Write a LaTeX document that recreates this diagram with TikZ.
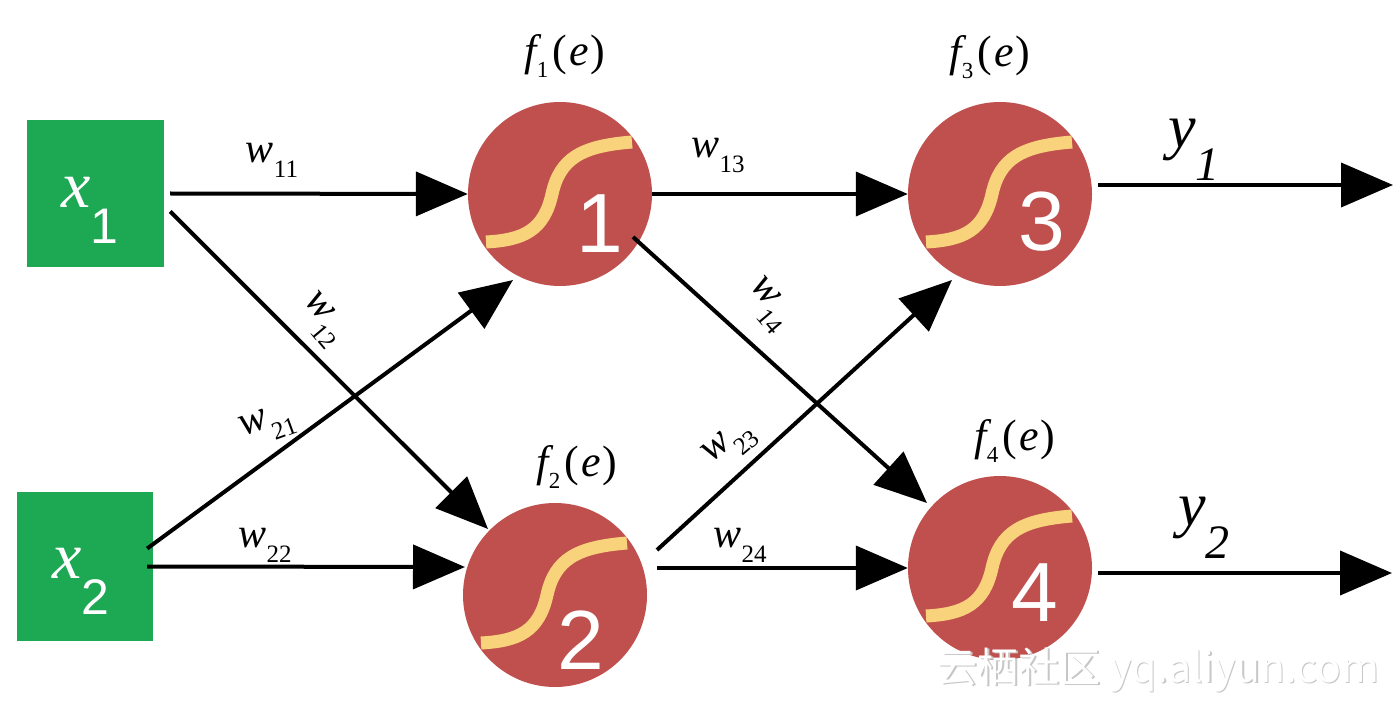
\documentclass[tikz,border=0pt]{standalone}
\usepackage{fontspec}
\setmainfont{Liberation Serif}
\newfontfamily\arialf{Liberation Sans}
\newfontfamily\cjkf{Noto Sans CJK SC}
\usetikzlibrary{arrows.meta,calc}
\definecolor{boxgreen}{RGB}{29,168,84}
\definecolor{neured}{RGB}{192,80,77}
\definecolor{sigyellow}{RGB}{249,210,124}
\newcommand\wlab[1]{{\fontsize{42}{42}\selectfont\itshape w}\raisebox{-15pt}{\fontsize{25}{25}\selectfont #1}}
\newcommand\flab[1]{{\fontsize{44}{44}\selectfont\itshape f}\raisebox{-12pt}{\fontsize{23}{23}\selectfont #1}\kern4pt{\fontsize{44}{44}\selectfont(\kern2pt\textit{e}\kern2pt)}}
\newcommand\ylab[1]{{\fontsize{62}{62}\selectfont\itshape y}\raisebox{-33pt}{\fontsize{48}{48}\selectfont\itshape #1}}
\newcommand\xlab[1]{{\fontsize{66}{66}\selectfont\itshape x}\raisebox{-36pt}{\fontsize{50}{50}\selectfont\arialf #1}}
\newcommand\sigmoidin[1]{\draw[sig] ($(#1.center)+(-74,48)$) .. controls ($(#1.center)+(-36,46)$) and ($(#1.center)+(-16,36)$) .. ($(#1.center)+(-8,0)$) .. controls ($(#1.center)+(0,-36)$) and ($(#1.center)+(22,-48)$) .. ($(#1.center)+(72,-52)$);}
\begin{document}
\begin{tikzpicture}[x=1pt,y=-1pt,
  inbox/.style={rectangle,fill=boxgreen,inner sep=0pt},
  neuron/.style={circle,fill=neured,inner sep=0pt,minimum size=184pt},
  sig/.style={draw=sigyellow,line width=13pt},
  digit/.style={text=white,inner sep=0pt,font=\arialf\fontsize{84}{84}\selectfont},
  conn/.style={line width=4pt,-{Triangle[length=52pt,width=44pt]}},
  lbl/.style={inner sep=0pt}]
\useasboundingbox (0,0) rectangle (1400,703);
\fill[white] (0,0) rectangle (1400,703);
% inputs
\node[inbox,minimum width=137pt,minimum height=147pt] (x1) at (95.5,193.5) {};
\node[inbox,minimum width=136pt,minimum height=149pt] (x2) at (85,566.5) {};
\node[lbl,text=white] (x1t) at (90,210) {\xlab{1}};
\node[lbl,text=white] (x2t) at (81,581) {\xlab{2}};
% neurons
\node[neuron] (n1) at (560,194) {};
\node[neuron] (n2) at (555,595) {};
\node[neuron] (n3) at (1000,194) {};
\node[neuron] (n4) at (1000,568) {};
\sigmoidin{n1}
\sigmoidin{n2}
\sigmoidin{n3}
\sigmoidin{n4}
\node[digit] (d1) at ($(n1.center)+(40,30)$) {1};
\node[digit] (d2) at ($(n2.center)+(26,45)$) {2};
\node[digit] (d3) at ($(n3.center)+(42,28)$) {3};
\node[digit] (d4) at ($(n4.center)+(35,25)$) {4};
% function labels
\node[lbl] (f1) at (565,56) {\flab{1}};
\node[lbl] (f2) at (577,467) {\flab{2}};
\node[lbl] (f3) at (990,57) {\flab{3}};
\node[lbl] (f4) at (1015,441) {\flab{4}};
% connectors
\coordinate (out1) at (1393,185);
\coordinate (out2) at (1392,573);
\draw[conn] ($(x1.east)+(6,0)$) -- (n1.west);
\draw[conn] ($(x1.east)+(6,18)$) -- ($(n2.center)+(-67,-66)$);
\draw[conn] ($(x2.east)+(-6,-18)$) -- ($(n1.center)+(-47,86)$);
\draw[conn] ($(x2.east)+(-6,0)$) -- ($(n2.center)+(-90,-28)$);
\draw[conn] (n1.east) -- (n3.west);
\draw[conn] ($(n1.center)+(73,43)$) -- ($(n4.center)+(-73,-65)$);
\draw[conn] ($(n2.center)+(102,-45)$) -- ($(n3.center)+(-48,86)$);
\draw[conn] ($(n2.center)+(102,-27)$) -- (n4.west);
\draw[conn] ($(n3.center)+(98,-9)$) -- (out1);
\draw[conn] ($(n4.center)+(98,5)$) -- (out2);
% weight labels
\node[lbl] (w11) at (272,160) {\wlab{11}};
\node[lbl,rotate=-50] (w12) at (322,320) {\wlab{12}};
\node[lbl,rotate=20] (w21) at (268,425) {\wlab{21}};
\node[lbl] (w22) at (265,545) {\wlab{22}};
\node[lbl] (w13) at (718,155) {\wlab{13}};
\node[lbl,rotate=-50] (w14) at (768,305) {\wlab{14}};
\node[lbl,rotate=40] (w23) at (730,445) {\wlab{2\kern-1pt 3}};
\node[lbl] (w24) at (740,545) {\wlab{24}};
% outputs
\node[lbl] (y1) at (1194,150) {\ylab{1}};
\node[lbl] (y2) at (1204,528) {\ylab{2}};
% watermark
\node[lbl,text=black!22,font=\cjkf\fontsize{41}{41}\selectfont] (wmshadow) at (1159.5,671.5) {云栖社区 yq.aliyun.com};
\node[lbl,text=white,font=\cjkf\fontsize{41}{41}\selectfont] (wm) at (1158,670) {云栖社区 yq.aliyun.com};
\end{tikzpicture}
\end{document}
